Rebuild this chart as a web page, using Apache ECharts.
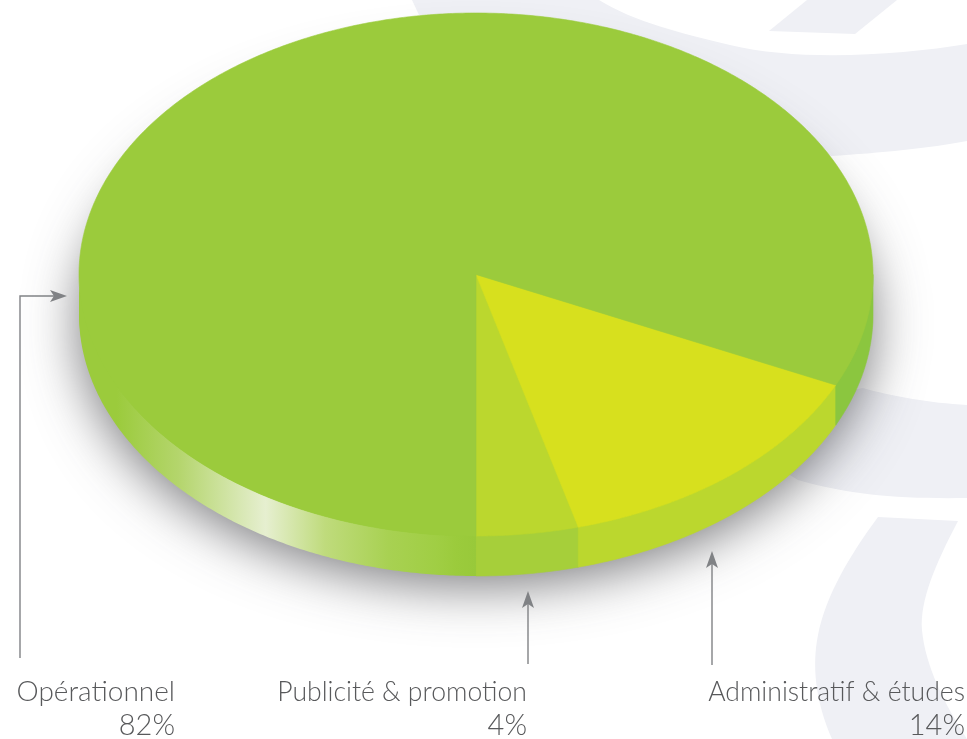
<!DOCTYPE html>
<html><head><meta charset="utf-8">
<style>html,body{margin:0;padding:0;background:#fff}#c{width:967px;height:739px}</style>
<script src="https://cdn.jsdelivr.net/npm/echarts@6/dist/echarts.min.js"></script>
</head><body><div id="c"></div>
<script>
const categories = ['Publicité & promotion', 'Administratif & études', 'Opérationnel'];
const shares = [4.15, 13.9, 81.95];
const shareLabels = ['4%', '14%', '82%'];

// Pie geometry and styling
const PIE = {cx: 476, cy: 274.5, rx: 397, ry: 261.5, depth: 40};
const TOP_COLORS = ['#bbd72e', '#d7e01e', '#9bcb3c'];
const SIDE_COLORS = ['#a6cf3a', '#bbd72e', '#8bc63f'];
const INK = '#808285', TEXT = '#58595b', SWOOSH = '#eff0f5';
const NAME_FONTS = ['300 26.6px Lato, sans-serif', '300 26.6px Lato, sans-serif', '300 28px Lato, sans-serif'];
const PCT_FONT = '300 29px Lato, sans-serif';
// label anchor (right edge), and leader path per category
const LABEL_RIGHT = [527, 965, 175];
const LEADERS = [
  {pts: [[528, 664], [528, 598]], tip: [528, 591], dir: [0, -1]},
  {pts: [[712, 665], [712, 558]], tip: [712, 551], dir: [0, -1]},
  {pts: [[20, 658], [20, 296], [58, 296]], tip: [67, 296], dir: [1, 0]}
];

const total = shares.reduce((a, b) => a + b, 0);
function pt(theta, dy) {
  return [PIE.cx + PIE.rx * Math.sin(theta), PIE.cy + (dy || 0) + PIE.ry * Math.cos(theta)];
}
function arc(a, b, dy) {
  const n = Math.max(2, Math.ceil(Math.abs(b - a) * 120)), out = [];
  for (let i = 0; i <= n; i++) out.push(pt(a + (b - a) * i / n, dy));
  return out;
}
function sidePoly(a, b) {
  return arc(a, b, 0).concat(arc(b, a, PIE.depth));
}
function poly(points, fill, z2) {
  const stroke = typeof fill === 'string' ? fill : null;
  return {type: 'polygon', z2: z2, shape: {points: points},
    style: {fill: fill, stroke: stroke, lineWidth: stroke ? 0.6 : 0}};
}
function renderSlice(params, api) {
  const i = params.dataIndex;
  let before = 0;
  for (let k = 0; k < i; k++) before += shares[k];
  const a = before / total * 2 * Math.PI;
  const b = (before + api.value(0)) / total * 2 * Math.PI;
  const kids = [];
  const H = Math.PI / 2;
  // front wall: only the portion with cos(theta) >= 0 shows
  if (a < H) kids.push(poly(sidePoly(a, Math.min(b, H)), SIDE_COLORS[i], 1));
  if (b > 3 * H) {
    const grad = new echarts.graphic.LinearGradient(PIE.cx - PIE.rx, 0, PIE.cx, 0, [
      {offset: 0, color: '#9bcb3c'}, {offset: 0.095, color: '#9bcb3c'},
      {offset: 0.25, color: '#b4d56c'}, {offset: 0.47, color: '#e6efd0'},
      {offset: 0.62, color: '#bfdb7c'}, {offset: 0.78, color: '#a8d152'},
      {offset: 0.9, color: '#a0ce44'}, {offset: 0.95, color: '#9bcb3c'}, {offset: 1, color: '#98c93a'}
    ], true);
    kids.push(poly(sidePoly(Math.max(a, 3 * H), b), grad, 1));
  }
  // top face
  kids.push(poly([[PIE.cx, PIE.cy]].concat(arc(a, b, 0)), TOP_COLORS[i], 3));
  // leader
  const L = LEADERS[i];
  kids.push({type: 'polyline', z2: 5, shape: {points: L.pts}, style: {fill: null, stroke: INK, lineWidth: 1.4}});
  const [tx, ty] = L.tip, [dx, dy] = L.dir, px = -dy, py = dx;
  kids.push({type: 'polygon', z2: 5, shape: {points: [
    [tx, ty],
    [tx - 17 * dx + 6 * px, ty - 17 * dy + 6 * py],
    [tx - 13 * dx, ty - 13 * dy],
    [tx - 17 * dx - 6 * px, ty - 17 * dy - 6 * py]
  ]}, style: {fill: INK}});
  // label
  const r = LABEL_RIGHT[i];
  kids.push({type: 'text', z2: 6, x: r, y: 692, style: {text: categories[i], font: NAME_FONTS[i], fill: TEXT, align: 'right', verticalAlign: 'middle'}});
  kids.push({type: 'text', z2: 6, x: r, y: 726, style: {text: shareLabels[i], font: PCT_FONT, fill: TEXT, align: 'right', verticalAlign: 'middle'}});
  return {type: 'group', children: kids};
}
function renderShadow() {
  const pts = arc(0, 2 * Math.PI, PIE.depth - 4);
  return {type: 'polygon', shape: {points: pts}, style: {
    fill: '#9bcb3c', shadowColor: 'rgba(62,62,66,0.68)', shadowBlur: 52, shadowOffsetX: 0, shadowOffsetY: 14}};
}
const swooshes = [
  'M412 0 L419 15 L476 13 L640 40 L700 100 L831 156 C880 153 930 148 967 141 L967 44 C900 55 800 62 730 45 C680 33 635 22 599 0 Z',
  'M807 0 L897 0 L855 34 L769 31 Z',
  'M863 388 C890 396 930 403 967 405 L967 498 C900 499 850 495 798 480 L700 420 Z',
  'M878 517 L958 521 C935 565 920 600 922 630 C925 665 945 705 967 739 L832 739 C815 700 812 665 818 635 C826 595 850 555 878 517 Z'
];
const chart = echarts.init(document.getElementById('c'), null, {renderer: 'canvas'});
chart.setOption({
  animation: false,
  backgroundColor: '#fff',
  series: [
    {type: 'custom', coordinateSystem: 'none', z: 1, silent: true, data: swooshes.map((d, i) => i),
     renderItem: (params) => ({type: 'path', shape: {pathData: swooshes[params.dataIndex]}, style: {fill: SWOOSH}})},
    {type: 'custom', coordinateSystem: 'none', z: 2, silent: true, data: [0], renderItem: renderShadow},
    {type: 'custom', coordinateSystem: 'none', z: 3, silent: true, data: shares, renderItem: renderSlice, encode: {value: 0}}
  ]
});
</script></body></html>
